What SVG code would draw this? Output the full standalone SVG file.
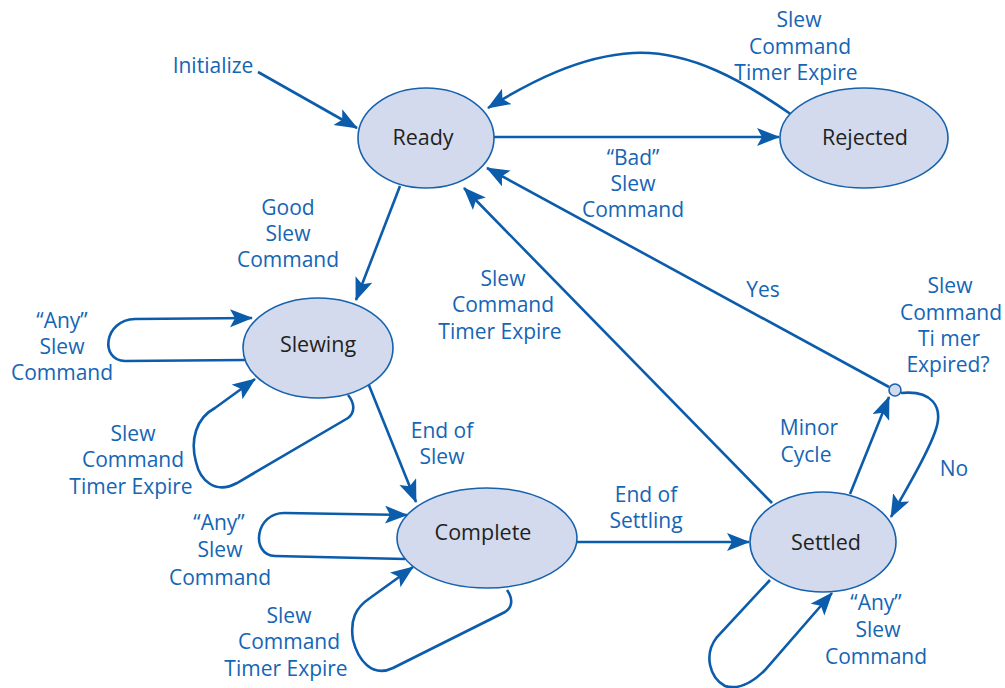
<svg xmlns="http://www.w3.org/2000/svg" width="1005" height="688" viewBox="0 0 1005 688">
<style>
.node{fill:#d3daee;stroke:#1762ad;stroke-width:1.6}
.nl{font-family:"Open Sans","Liberation Sans",sans-serif;font-size:21.5px;fill:#231f20;text-anchor:middle}
.lb{font-family:"Open Sans","Liberation Sans",sans-serif;font-size:21px;fill:#1565b5;text-anchor:middle}
.c{fill:none;stroke:#0b5cab;stroke-width:2.6;marker-end:url(#ah)}
</style>
<defs>
<marker id="ah" markerUnits="userSpaceOnUse" markerWidth="26" markerHeight="20" refX="22" refY="9" orient="auto">
<path d="M0,0 L23,9 L0,18 L5,9 Z" fill="#0b5cab"/>
</marker>
</defs>
<g id="connectors">
<path class="c" d="M258,72 L357,128"/>
<path class="c" d="M494,137 L779,137"/>
<path class="c" d="M792,115 C745,82 690,50 633,53 C580,56 530,82 488,108"/>
<path class="c" d="M400,186 L356,300"/>
<path class="c" d="M245,360 L125,361 C100,361 103,320 135,319 L252,318"/>
<path class="c" d="M348,395 C354,402 356,412 348,418 L237,483 C215,495 200,480 196,462 C190,440 196,418 215,408 L255,379"/>
<path class="c" d="M362,368 L416,502"/>
<path class="c" d="M405,559 L275,556 C250,555 255,512 285,513 L407,515"/>
<path class="c" d="M507,590 C512,597 514,606 505,612 L393,668 C372,678 358,660 353,640 C350,620 355,608 370,598 L413,567"/>
<path class="c" d="M577,542 L749,542"/>
<path class="c" d="M772,503 L464,188"/>
<path class="c" d="M850,494 L889,397"/>
<path class="c" d="M889,387 L487,168"/>
<path class="c" d="M901,393 C930,390 945,405 935,432 C925,460 905,490 891,517"/>
<path class="c" d="M770,580 L717,637 C703,655 710,678 725,686 C738,690 752,683 765,670 L832,593"/>
</g>
<g id="ready"><ellipse class="node" cx="426" cy="138" rx="68" ry="50"/><text class="nl" x="423" y="145">Ready</text></g>
<g id="rejected"><ellipse class="node" cx="864" cy="138" rx="84" ry="50"/><text class="nl" x="865" y="145">Rejected</text></g>
<g id="slewing"><ellipse class="node" cx="318" cy="348" rx="75" ry="50"/><text class="nl" x="318" y="352">Slewing</text></g>
<g id="complete"><ellipse class="node" cx="487" cy="538" rx="90" ry="50"/><text class="nl" x="483" y="540">Complete</text></g>
<g id="settled"><ellipse class="node" cx="823" cy="542" rx="73" ry="50"/><text class="nl" x="826" y="550">Settled</text></g>
<g id="decision"><circle cx="895" cy="390" r="6" fill="#d3daee" stroke="#1762ad" stroke-width="1.6"/></g>
<g id="labels">
<text class="lb" x="213" y="73">Initialize</text>
<text class="lb" x="799" y="27">Slew<tspan x="800" dy="26.5">Command</tspan><tspan x="796" dy="26.5">Timer Expire</tspan></text>
<text class="lb" x="633" y="165">“Bad”<tspan x="633" dy="26">Slew</tspan><tspan x="633" dy="26">Command</tspan></text>
<text class="lb" x="288" y="215">Good<tspan x="288" dy="26">Slew</tspan><tspan x="288" dy="26">Command</tspan></text>
<text class="lb" x="62" y="328">“Any”<tspan x="62" dy="26">Slew</tspan><tspan x="62" dy="26">Command</tspan></text>
<text class="lb" x="133" y="441">Slew<tspan x="133" dy="26">Command</tspan><tspan x="131" dy="27">Timer Expire</tspan></text>
<text class="lb" x="442" y="438">End of<tspan x="442" dy="25.5">Slew</tspan></text>
<text class="lb" x="503" y="286">Slew<tspan x="503" dy="26">Command</tspan><tspan x="500" dy="27">Timer Expire</tspan></text>
<text class="lb" x="763" y="297">Yes</text>
<text class="lb" x="950" y="293">Slew<tspan x="951" dy="26.5">Command</tspan><tspan x="949" dy="26">Ti mer</tspan><tspan x="948" dy="26">Expired?</tspan></text>
<text class="lb" x="809" y="435">Minor<tspan x="806" dy="27">Cycle</tspan></text>
<text class="lb" x="954" y="476">No</text>
<text class="lb" x="646" y="502">End of<tspan x="646" dy="26">Settling</tspan></text>
<text class="lb" x="219" y="530">“Any”<tspan x="220" dy="27">Slew</tspan><tspan x="220" dy="27.5">Command</tspan></text>
<text class="lb" x="289" y="623">Slew<tspan x="289" dy="26">Command</tspan><tspan x="286" dy="26.5">Timer Expire</tspan></text>
<text class="lb" x="876" y="610">“Any”<tspan x="878" dy="27">Slew</tspan><tspan x="876" dy="26.5">Command</tspan></text>
</g>
</svg>
